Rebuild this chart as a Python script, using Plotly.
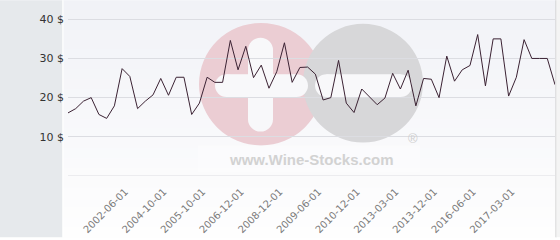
import plotly.graph_objects as go

# ---- data ----
prices = [16.1, 17.2, 19.1, 20.0, 15.7, 14.7, 17.9, 27.4, 25.4, 17.2,
          19.1, 20.7, 24.9, 20.6, 25.2, 25.2, 15.7, 18.6, 25.2, 23.9,
          23.9, 34.6, 27.1, 33.1, 25.1, 28.3, 22.4, 26.6, 34.0, 23.9,
          27.7, 27.8, 26.0, 19.4, 20.0, 29.5, 18.6, 16.2, 22.2, 20.2,
          18.2, 19.9, 26.2, 22.2, 27.0, 17.9, 24.9, 24.7, 20.0, 30.6,
          24.2, 27.1, 28.2, 36.1, 23.0, 35.0, 35.0, 20.4, 25.2, 34.8,
          30.0, 30.0, 30.0, 23.3]
point_index = list(range(len(prices)))
tick_index = [7, 12, 17, 22, 27, 32, 37, 42, 47, 52, 57]
tick_labels = ["2002-06-01", "2004-10-01", "2005-10-01", "2006-12-01",
               "2008-12-01", "2009-06-01", "2010-12-01", "2013-03-01",
               "2013-12-01", "2016-06-01", "2017-03-01"]
y_ticks = [0, 10, 20, 30, 40]
y_tick_labels = ["", "10 $", "20 $", "30 $", "40 $"]

# ---- layout geometry ----
W, H = 560, 240
L, R, T, B = 68, 5, 13, 62
PW, PH = W - L - R, H - T - B


def px_x(px):
    return (px - L) / PW


def px_y(py):
    return (H - B - py) / PH


shapes = []


def rect_px(x0, y0, x1, y1, color, layer="below"):
    shapes.append(dict(type="rect", xref="paper", yref="paper",
                       x0=px_x(x0), x1=px_x(x1), y0=px_y(y1), y1=px_y(y0),
                       fillcolor=color, line=dict(width=0), layer=layer))


def circle_px(cx, cy, r, color):
    shapes.append(dict(type="circle", xref="paper", yref="paper",
                       x0=px_x(cx - r), x1=px_x(cx + r), y0=px_y(cy + r), y1=px_y(cy - r),
                       fillcolor=color, line=dict(width=0), layer="below"))


def bar_h(x0, x1, y0, y1, color):
    r = (y1 - y0) / 2
    rect_px(x0 + r, y0, x1 - r, y1, color)
    circle_px(x0 + r, (y0 + y1) / 2, r, color)
    circle_px(x1 - r, (y0 + y1) / 2, r, color)


def bar_v(x0, x1, y0, y1, color):
    r = (x1 - x0) / 2
    rect_px(x0, y0 + r, x1, y1 - r, color)
    circle_px((x0 + x1) / 2, y0 + r, r, color)
    circle_px((x0 + x1) / 2, y1 - r, r, color)


# background gradient of the light area
n = 24
top_c = (241, 242, 247)
bot_c = (254, 254, 254)
for i in range(n):
    t = i / (n - 1)
    c = tuple(round(top_c[k] + (bot_c[k] - top_c[k]) * t) for k in range(3))
    y0 = H * i / n
    y1 = H * (i + 1) / n + 0.6
    rect_px(63, y0, 556, y1, "rgb(%d,%d,%d)" % c)

# left grey panel and separators
rect_px(0, 0, 62.5, H, "#e6e9ec")
rect_px(62.5, 0, 63.5, H, "#ffffff")
rect_px(555.5, 0, 556.5, H, "#c9c9c9")
rect_px(556.5, 0, 560, H, "#f4f4f4")

# watermark
circle_px(261, 85, 62, "#ebcdd3")
circle_px(363, 84, 60, "#d7d7d9")
bar_v(248, 273, 38, 133, "#f8f8fa")
bar_h(215, 308, 75, 98, "#f8f8fa")
bar_h(315, 412, 75, 98, "#f8f8fa")
rect_px(198, 147, 420, 174, "rgba(255,255,255,0.3)")

# baseline (0 $) grid line
shapes.append(dict(type="line", xref="paper", yref="y", x0=0, x1=1, y0=0, y1=0,
                   line=dict(color="#dcdde2", width=1), layer="below"))

fig = go.Figure()
fig.add_trace(go.Scatter(
    x=point_index, y=prices, mode="lines",
    line=dict(color="#3b2233", width=1),
    hoverinfo="skip"))

fig.update_layout(
    width=W, height=H,
    margin=dict(l=L, r=R, t=T, b=B),
    paper_bgcolor="#ffffff",
    plot_bgcolor="rgba(0,0,0,0)",
    showlegend=False,
    shapes=shapes,
    annotations=[
        dict(text="<b>www.Wine-Stocks.com</b>", xref="paper", yref="paper",
             x=px_x(311), y=px_y(161), xanchor="center", yanchor="middle",
             showarrow=False,
             font=dict(family="Liberation Sans", size=15, color="#d2d2d2")),
        dict(text="®", xref="paper", yref="paper",
             x=px_x(413), y=px_y(140), xanchor="center", yanchor="middle",
             showarrow=False,
             font=dict(family="Liberation Sans", size=13, color="#cfcfcf")),
    ],
    xaxis=dict(
        range=[0, len(prices) - 1],
        tickvals=tick_index, ticktext=tick_labels,
        tickangle=-45,
        tickfont=dict(family="DejaVu Sans", size=10, color="#7a7a7a"),
        showgrid=False, zeroline=False, showline=False,
        ticks="", ticklabelstandoff=7, ticklabelshift=3,
        fixedrange=True,
    ),
    yaxis=dict(
        range=[0, 41.6],
        tickvals=y_ticks, ticktext=y_tick_labels,
        tickfont=dict(family="DejaVu Sans", size=11, color="#333333"),
        showgrid=True, gridcolor="#dcdde2", gridwidth=1,
        zeroline=False, showline=False, ticks="",
        ticklabelstandoff=3, fixedrange=True,
    ),
)

fig.write_html("out.html")
